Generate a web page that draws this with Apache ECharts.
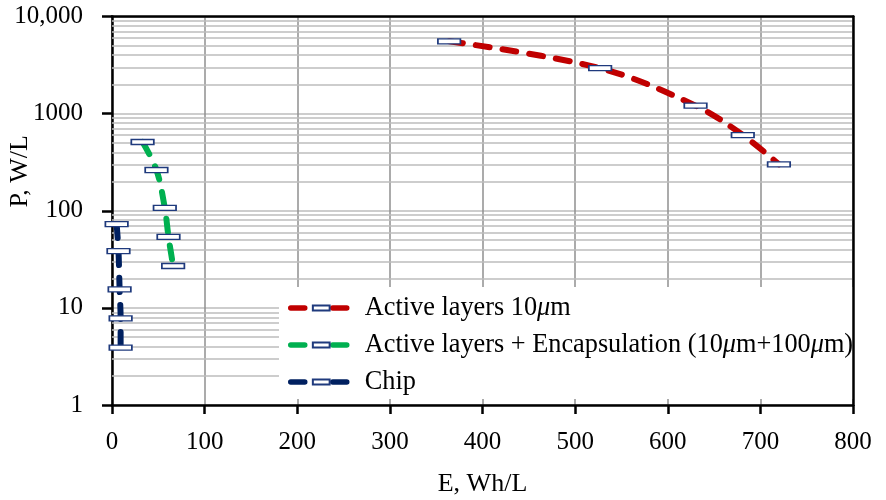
<!DOCTYPE html>
<html>
<head>
<meta charset="utf-8">
<script src="https://cdn.jsdelivr.net/npm/echarts@6/dist/echarts.min.js"></script>
<style>html,body{margin:0;padding:0;background:#fff;}#c{width:886px;height:500px;}</style>
</head>
<body>
<div id="c"></div>
<script>
// ---- data ----
const seriesNames = ['Active layers 10μm', 'Active layers + Encapsulation (10μm+100μm)', 'Chip'];
const activeE = [364, 527, 630, 681, 720];
const activeP = [5570, 2940, 1210, 603, 301];
const encapE = [33, 48, 57, 61, 66];
const encapP = [511, 263, 107, 54, 27];
const chipE = [5, 7, 8.2, 9.3, 9.3];
const chipP = [73, 38.5, 15.5, 7.8, 3.9];
const xTicks = [0, 100, 200, 300, 400, 500, 600, 700, 800];
const yTickValues = [1, 10, 100, 1000, 10000];
const yTickLabels = ['1', '10', '100', '1000', '10,000'];
const minorGridP = [2, 3, 4, 5, 6, 7, 8, 9,
  20, 30, 40, 50, 60, 70, 80, 90,
  200, 300, 400, 500, 600, 700, 800, 900,
  2000, 3000, 4000, 5000, 6000, 7000, 8000, 9000];

const FONT = 'Liberation Serif';
const markerPath = 'path://M0,0M24,20M0,7h24v6h-24z';
const markerStyle = { color: '#ffffff', borderColor: '#1f3a7d', borderWidth: 1.5 };

function pairs(xs, ys) { return xs.map((x, i) => [x, ys[i]]); }

function lineSeries(name, xs, ys, color) {
  return {
    name: name,
    type: 'line',
    data: pairs(xs, ys),
    smooth: 0.35,
    symbol: markerPath,
    symbolSize: [22.5, 16.7],
    showAllSymbol: true,
    itemStyle: markerStyle,
    lineStyle: { color: color, width: 6, type: [14, 13], cap: 'round' },
    z: 3
  };
}

const chart = echarts.init(document.getElementById('c'), null, { renderer: 'canvas' });
chart.setOption({
  animation: false,
  backgroundColor: '#ffffff',
  grid: { left: 112, right: 33, top: 16.6, bottom: 95, containLabel: false, outerBoundsMode: 'none' },
  xAxis: [{
    type: 'value', min: 0, max: 800, interval: 100, position: 'bottom',
    name: 'E, Wh/L', nameLocation: 'middle', nameGap: 66, nameMoveOverlap: false,
    nameTextStyle: { fontFamily: FONT, fontSize: 26, color: '#000' },
    axisLine: { show: true, onZero: false, lineStyle: { color: '#000', width: 2.5 } },
    axisTick: { show: true, inside: false, length: 9, lineStyle: { color: '#000', width: 2.5 } },
    axisLabel: { fontFamily: FONT, fontSize: 25, color: '#000', margin: 25,
      customValues: xTicks },
    splitLine: { show: true, lineStyle: { color: '#8f8f8f', width: 1.5 } }
  }, {
    type: 'value', min: 0, max: 800, position: 'top', z: 10,
    axisLine: { show: true, onZero: false, lineStyle: { color: '#000', width: 2.5 } },
    axisTick: { show: false }, axisLabel: { show: false }, splitLine: { show: false }
  }],
  yAxis: [{
    type: 'log', logBase: 10, min: 1, max: 10000, position: 'left',
    name: 'P, W/L', nameLocation: 'middle', nameGap: 79, nameRotate: 90, nameMoveOverlap: false,
    nameTextStyle: { fontFamily: FONT, fontSize: 26, color: '#000', padding: [0, 0, 0, 79] },
    axisLine: { show: true, onZero: false, lineStyle: { color: '#000', width: 2.5 } },
    axisTick: { show: true, inside: false, length: 10, lineStyle: { color: '#000', width: 2.5 } },
    axisLabel: { fontFamily: FONT, fontSize: 25, color: '#000', margin: 29,
      formatter: function (v) {
        const i = yTickValues.findIndex(t => Math.abs(t - v) / t < 1e-6);
        return i >= 0 ? yTickLabels[i] : '';
      } },
    splitLine: { show: true, lineStyle: { color: '#bdbdbd', width: 1.5 } },
    minorTick: { show: false }, minorSplitLine: { show: false }
  }, {
    type: 'value', min: 0, max: 1, position: 'right', z: 10,
    axisLine: { show: true, onZero: false, lineStyle: { color: '#000', width: 2.5 } },
    axisTick: { show: false }, axisLabel: { show: false }, splitLine: { show: false }
  }],
  legend: {
    data: seriesNames,
    orient: 'vertical', left: 279, top: 287, align: 'left', z: 6,
    padding: [8, 6, 4, 9],
    backgroundColor: '#ffffff',
    itemWidth: 61, itemHeight: 21, itemGap: 11,
    lineStyle: { width: 5.5, type: [14, 28], cap: 'round' },
    selectedMode: false,
    formatter: function (name) { return name.replace(/μ/g, '{mu|μ}'); },
    textStyle: { fontFamily: FONT, fontSize: 26.3, color: '#000', padding: [0, 0, 0, 8],
      rich: { mu: { fontFamily: FONT, fontSize: 26.3, fontStyle: 'italic', color: '#000' } } }
  },
  series: [
    {
      type: 'line', data: [], silent: true, z: 1,
      markLine: {
        silent: true, symbol: ['none', 'none'], animation: false, z: 1,
        label: { show: false },
        lineStyle: { color: '#bdbdbd', width: 1.5, type: 'solid' },
        data: minorGridP.map(v => ({ yAxis: v }))
      }
    },
    lineSeries(seriesNames[0], activeE, activeP, '#c00000'),
    lineSeries(seriesNames[1], encapE, encapP, '#00b050'),
    lineSeries(seriesNames[2], chipE, chipP, '#002060')
  ]
});
</script>
</body>
</html>
